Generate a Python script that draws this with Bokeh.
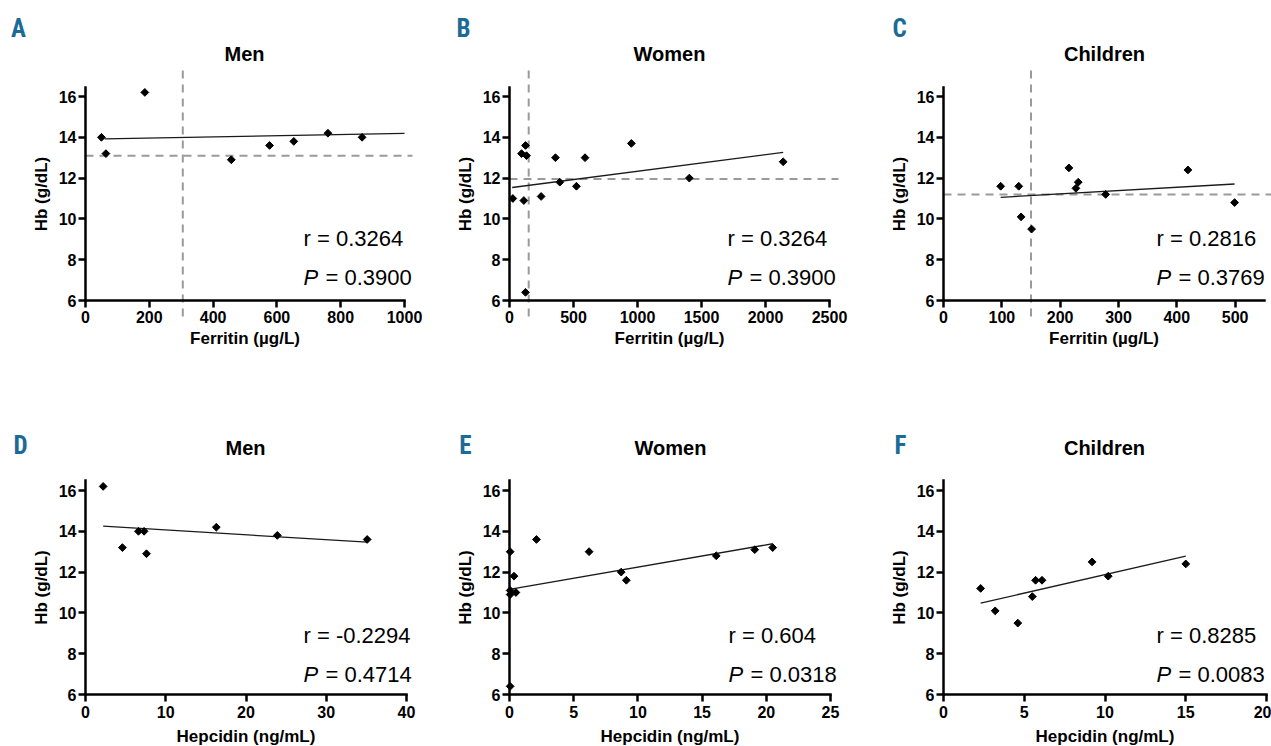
from math import pi
from bokeh.plotting import figure
from bokeh.models import Range1d, FixedTicker, Label
from bokeh.core.properties import value
from bokeh.layouts import row, column
from bokeh.embed import file_html
from bokeh.resources import INLINE

# ---------------- data ----------------
y_ticks = [6, 8, 10, 12, 14, 16]

# A: Men, ferritin
A_x = [50, 64, 186, 457, 577, 653, 760, 867]
A_y = [14.0, 13.2, 16.2, 12.9, 13.6, 13.8, 14.2, 14.0]
A_fit_x = [60, 1000]
A_fit_y = [13.92, 14.19]
A_cut = [305, 13.1]
A_ticks = [0, 200, 400, 600, 800, 1000]

# B: Women, ferritin
B_x = [26, 94, 112, 125, 133, 125, 247, 359, 393, 523, 590, 952, 1405, 2138]
B_y = [11.0, 13.2, 10.9, 13.6, 13.1, 6.4, 11.1, 13.0, 11.8, 11.6, 13.0, 13.7, 12.0, 12.8]
B_fit_x = [21, 2138]
B_fit_y = [11.54, 13.26]
B_cut = [150, 11.95]
B_ticks = [0, 500, 1000, 1500, 2000, 2500]

# C: Children, ferritin
C_x = [98, 129, 133, 151, 215, 227, 231, 278, 419, 499]
C_y = [11.6, 11.6, 10.1, 9.5, 12.5, 11.5, 11.8, 11.2, 12.4, 10.8]
C_fit_x = [98, 499]
C_fit_y = [11.06, 11.71]
C_cut = [150, 11.2]
C_ticks = [0, 100, 200, 300, 400, 500]

# D: Men, hepcidin
D_x = [2.2, 4.6, 6.6, 7.3, 7.6, 16.3, 23.9, 35.1]
D_y = [16.2, 13.2, 14.0, 14.0, 12.9, 14.2, 13.8, 13.6]
D_fit_x = [2.2, 35.1]
D_fit_y = [14.25, 13.47]
D_ticks = [0, 10, 20, 30, 40]

# E: Women, hepcidin
E_x = [0.05, 0.35, 0.05, 0.05, 0.5, 0.05, 2.1, 6.2, 8.7, 9.1, 16.1, 19.1, 20.5]
E_y = [13.0, 11.8, 11.1, 10.9, 11.0, 6.4, 13.6, 13.0, 12.0, 11.6, 12.8, 13.1, 13.2]
E_fit_x = [0, 20.5]
E_fit_y = [11.15, 13.39]
E_ticks = [0, 5, 10, 15, 20, 25]

# F: Children, hepcidin
F_x = [2.3, 3.2, 4.6, 5.5, 5.7, 6.1, 9.2, 10.2, 15.0]
F_y = [11.2, 10.1, 9.5, 10.8, 11.6, 11.6, 12.5, 11.8, 12.4]
F_fit_x = [2.3, 15.0]
F_fit_y = [10.48, 12.78]
F_ticks = [0, 5, 10, 15, 20]

stats_r = ["0.3264", "0.3264", "0.2816", "-0.2294", "0.604", "0.8285"]
stats_p = ["0.3900", "0.3900", "0.3769", "0.4714", "0.0318", "0.0083"]
letters = ["A", "B", "C", "D", "E", "F"]
titles = ["Men", "Women", "Children", "Men", "Women", "Children"]
x_labels = ["Ferritin (µg/L)"] * 3 + ["Hepcidin (ng/mL)"] * 3
y_label = "Hb (g/dL)"

FONT = "Liberation Sans"
LETTER_FONT = "'Liberation Sans Narrow', 'Roboto Condensed', 'DejaVu Sans Condensed', Roboto, sans-serif"
LETTER_COLOR = "#1a6b98"
KY = 20.4  # px per g/dL


def make_panel(i, xs, ys, fx, fy, ticks, cut, L):
    ox, oy, w, h, x0, kx, y6 = L["ox"], L["oy"], L["w"], L["h"], L["x0"], L["kx"], L["y6"]
    x_start = (ox - x0) / kx
    x_end = (ox + w - x0) / kx
    y_start = 6 + (y6 - (oy + h)) / KY
    y_end = 6 + (y6 - oy) / KY

    def sx(page_x):
        return page_x - ox

    def sy(page_y):
        return oy + h - page_y

    p = figure(width=w, height=h, title=None,
               x_range=Range1d(x_start, x_end), y_range=Range1d(y_start, y_end),
               output_backend="svg", toolbar_location=None, min_border=0,
               x_axis_label=x_labels[i], y_axis_label=y_label)
    p.outline_line_color = None
    p.grid.visible = False
    p.background_fill_color = "white"
    p.border_fill_color = "white"

    for ax in (p.xaxis[0], p.yaxis[0]):
        ax.axis_line_width = 2.5
        ax.axis_line_color = "black"
        ax.axis_line_cap = "square"
        ax.major_tick_line_width = 2.5
        ax.major_tick_line_color = "black"
        ax.major_tick_out = 7
        ax.major_tick_in = 0
        ax.minor_tick_line_color = None
        ax.major_label_text_font = FONT
        ax.major_label_text_font_size = "16px"
        ax.major_label_text_font_style = "bold"
        ax.major_label_text_color = "black"
        ax.axis_label_text_font = FONT
        ax.axis_label_text_font_size = "17px"
        ax.axis_label_text_font_style = "bold"
        ax.axis_label_text_color = "black"
    p.xaxis.major_label_standoff = L["xls"]
    p.xaxis.axis_label_standoff = L["xas"]
    p.yaxis.major_label_standoff = 2
    p.yaxis.axis_label_standoff = 5
    p.xaxis.ticker = FixedTicker(ticks=ticks)
    p.yaxis.ticker = FixedTicker(ticks=y_ticks)
    p.xaxis.bounds = (0, ticks[-1] if L.get("xmax") is None else L["xmax"])
    p.yaxis.bounds = (6, L["ymax"])
    p.xaxis.fixed_location = 6
    p.yaxis.fixed_location = 0

    if cut is not None:
        vy0 = 6 + (y6 - L["v_bot"]) / KY
        vy1 = 6 + (y6 - L["v_top"]) / KY
        hx1 = (L["h_right"] - x0) / kx
        p.segment(x0=[cut[0]], y0=[vy0], x1=[cut[0]], y1=[vy1],
                  line_color="#9a9a9a", line_width=2, line_dash="8 6")
        p.segment(x0=[0], y0=[cut[1]], x1=[hx1], y1=[cut[1]],
                  line_color="#9a9a9a", line_width=2, line_dash="8 6")

    p.line(fx, fy, line_color="#1a1a1a", line_width=1.3)
    p.scatter(xs, ys, marker="square", angle=pi / 4, size=5.5,
              fill_color="black", line_color="black")

    common = dict(x_units="screen", y_units="screen", text_font=FONT,
                  text_baseline="middle", text_color="black")
    # panel title
    p.add_layout(Label(x=sx(L["tx"]), y=sy(L["ty"]), text=titles[i], text_align="center",
                       text_font_size="20px", text_font_style="bold", **common))
    # panel letter
    p.add_layout(Label(x=sx(L["lx"]), y=sy(L["ty"] + L["ldy"]), x_units="screen", y_units="screen",
                       text=letters[i], text_font=LETTER_FONT, text_font_style="bold",
                       text_font_size="25px", text_color=LETTER_COLOR,
                       text_align="center", text_baseline="middle"))
    # statistics
    p.add_layout(Label(x=sx(L["sx"]), y=sy(L["ry"]), text="r = " + stats_r[i],
                       text_align="left", text_font_size="22px", **common))
    p.add_layout(Label(x=sx(L["sx"]), y=sy(L["ry"] + 39), text="P", text_align="left",
                       text_font_size="22px", text_font_style="italic", **common))
    p.add_layout(Label(x=sx(L["sx"]), y=sy(L["ry"] + 39), x_offset=22, text="= " + stats_p[i],
                       text_align="left", text_font_size="22px", **common))
    return p


TOP = dict(oy=0, h=373, y6=300, ymax=16.44, xls=3, xas=3, ry=238, ty=53, ldy=-25,
           v_bot=316, v_top=69)
BOT = dict(oy=373, h=372, y6=694, ymax=16.49, xls=4, xas=6, ry=635, ty=447, ldy=-2)

LA = dict(TOP, ox=0, w=430, x0=85, kx=0.319, sx=303, tx=244, lx=18, h_right=412)
LB = dict(TOP, ox=430, w=430, x0=509, kx=0.128, sx=727, tx=669, lx=463, h_right=838)
LC = dict(TOP, ox=860, w=411, x0=943, kx=0.58333, sx=1156, tx=1104, lx=899, h_right=1290,
          xmax=550)
LD = dict(BOT, ox=0, w=430, x0=85, kx=8.025, sx=303, tx=245, lx=20)
LE = dict(BOT, ox=430, w=430, x0=509, kx=12.84, sx=728, tx=670, lx=465)
LF = dict(BOT, ox=860, w=411, x0=943, kx=16.15, sx=1156, tx=1104, lx=900)

pA = make_panel(0, A_x, A_y, A_fit_x, A_fit_y, A_ticks, A_cut, LA)
pB = make_panel(1, B_x, B_y, B_fit_x, B_fit_y, B_ticks, B_cut, LB)
pC = make_panel(2, C_x, C_y, C_fit_x, C_fit_y, C_ticks, C_cut, LC)
pD = make_panel(3, D_x, D_y, D_fit_x, D_fit_y, D_ticks, None, LD)
pE = make_panel(4, E_x, E_y, E_fit_x, E_fit_y, E_ticks, None, LE)
pF = make_panel(5, F_x, F_y, F_fit_x, F_fit_y, F_ticks, None, LF)

layout = column(row(pA, pB, pC), row(pD, pE, pF))

open("out.html", "w").write(file_html(layout, INLINE))
